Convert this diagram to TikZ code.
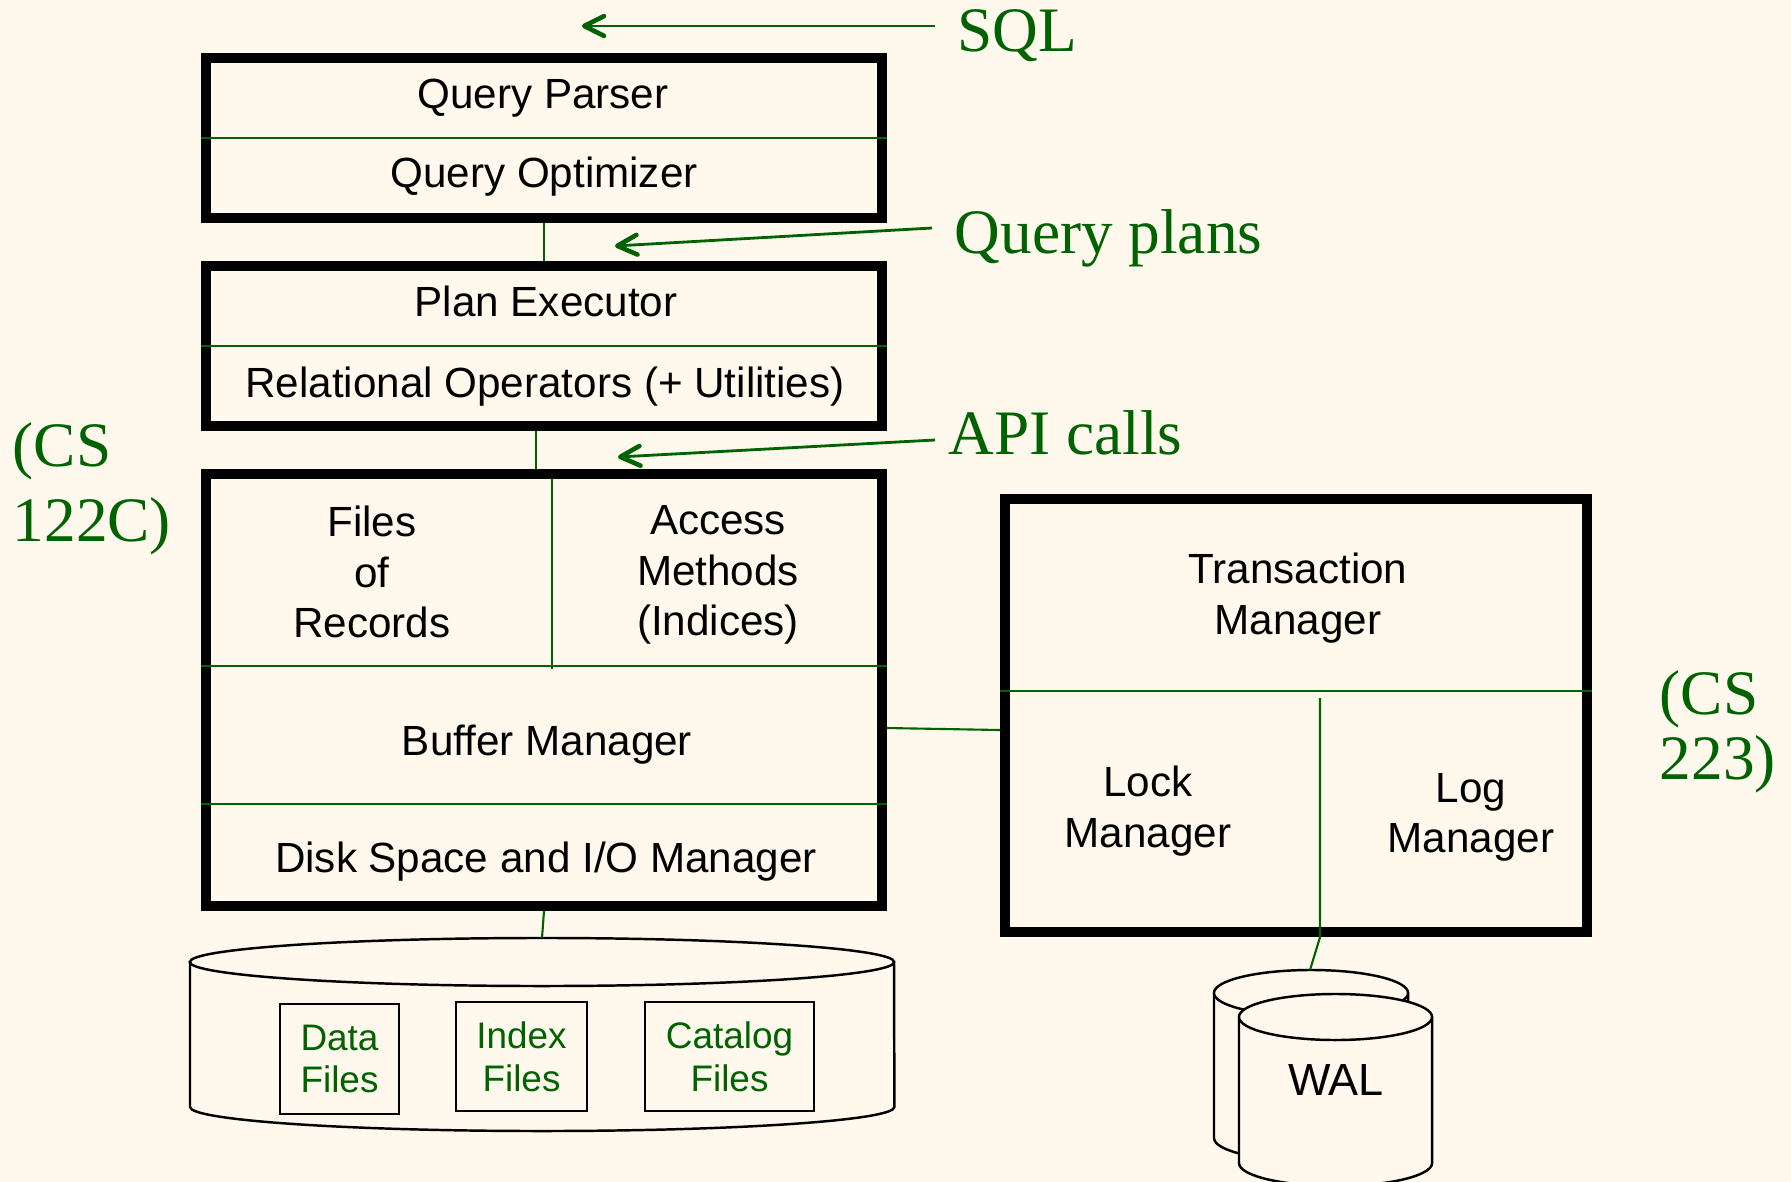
\documentclass[tikz,border=0pt]{standalone}
\usepackage{fontspec}
\setmainfont{Liberation Sans}
\newfontfamily\labelfont{Liberation Serif}
\usetikzlibrary{arrows.meta, positioning, calc}
\definecolor{cBg}{RGB}{255, 248, 236}
\definecolor{bGreen}{RGB}{0, 98, 0}
\definecolor{tDark}{RGB}{0, 0, 0}

\begin{document}
\begin{tikzpicture}[
    x=0.01cm, y=-0.01cm,
    font=\fontsize{12}{14.3}\selectfont,
    >={Straight Barb[length=5.6pt, width=5.6pt, line width=1.3pt, round]},
    layer/.style={draw=tDark, line width=0.1cm, fill=cBg, inner sep=0pt},
    part/.style={align=center, inner sep=0pt, text=tDark},
    divider/.style={draw=bGreen, line width=0.65pt},
    link/.style={draw=bGreen, line width=0.6pt},
    arrow/.style={->, line width=0.8pt, color=bGreen},
    note/.style={font=\labelfont\fontsize{18}{21.3}\selectfont, text=bGreen, inner sep=0pt},
    store/.style={draw=tDark, line width=0.7pt, fill=cBg},
    filebox/.style={draw=tDark, line width=0.6pt, align=center, inner sep=0pt,
        text=bGreen, font=\fontsize{10.5}{12.2}\selectfont}
]

\path[fill=cBg, use as bounding box] (0,0) rectangle (1791,1182);

% Query layer
\node[layer, minimum width=6.76cm, minimum height=1.6cm] (qbox) at (544,138) {};
\node[part, anchor=base] (parser) at (543,109) {Query Parser};
\node[part, anchor=base] (optimizer) at (544,188) {Query Optimizer};
\draw[divider] (qbox.west) -- (qbox.east);

% Execution layer
\node[layer, minimum width=6.76cm, minimum height=1.6cm] (pbox) at (544,346) {};
\node[part, anchor=base] (executor) at (546,317) {Plan Executor};
\node[part, anchor=base] (operators) at (545,397) {Relational Operators (+ Utilities)};
\draw[divider] (pbox.west) -- (pbox.east);

% Storage layer
\node[layer, minimum width=6.76cm, minimum height=4.32cm] (sbox) at (544,690) {};
\node[part] (files) at (372,572) {Files\\of\\Records};
\node[part] (access) at (718,575) {Access\\Methods\\(Indices)};
\node[part, anchor=base] (buffer) at (547,755) {Buffer Manager};
\node[part, anchor=base] (diskspace) at (546,872) {Disk Space and I/O Manager};
\draw[divider] (sbox.west |- 0,666) -- (sbox.east |- 0,666);
\draw[divider] (sbox.west |- 0,804) -- (sbox.east |- 0,804);
\draw[divider] (552,478) -- (552,669);

% Transaction layer
\node[layer, minimum width=5.82cm, minimum height=4.33cm] (tbox) at (1296,715.5) {};
\node[part] (txn) at (1298,598) {Transaction\\Manager};
\node[part] (lock) at (1148,811) {Lock\\Manager};
\node[part] (log) at (1471,817) {Log\\Manager};
\draw[divider] (tbox.west |- 0,691) -- (tbox.east |- 0,691);

% Disk
\draw[store] (190,962) -- (190,1107)
    arc[start angle=180, end angle=360, x radius=3.52cm, y radius=0.24cm] -- (894,962);
\draw[store] (542,962) ellipse [x radius=3.52cm, y radius=0.24cm];
\coordinate (disktop) at (542,938);
\node[filebox, minimum width=1.19cm, minimum height=1.1cm] (datafiles) at (339.5,1059) {Data\\Files};
\node[filebox, minimum width=1.31cm, minimum height=1.09cm] (indexfiles) at (521.5,1056.5) {Index\\Files};
\node[filebox, minimum width=1.69cm, minimum height=1.09cm] (catalogfiles) at (729.5,1056.5) {Catalog\\Files};

% WAL
\draw[store] (1214,993) -- (1214,1138)
    arc[start angle=180, end angle=360, x radius=0.97cm, y radius=0.23cm] -- (1408,993);
\draw[store] (1311,993) ellipse [x radius=0.97cm, y radius=0.23cm];
\draw[store] (1239,1017) -- (1239,1163)
    arc[start angle=180, end angle=360, x radius=0.965cm, y radius=0.23cm] -- (1432,1017);
\draw[store] (1335.5,1017) ellipse [x radius=0.965cm, y radius=0.23cm];
\coordinate (waltop) at (1310,970);
\node[part, font=\fontsize{12.8}{15}\selectfont] (wal) at (1336,1080) {WAL};

% Links
\draw[link] (qbox.south) -- (pbox.north);
\draw[link] ([xshift=-0.08cm]pbox.south) -- ([xshift=-0.08cm]sbox.north);
\draw[link] (sbox.south) -- (disktop);
\draw[link] ([yshift=-0.38cm]sbox.east) -- ([yshift=-0.145cm]tbox.west);
\coordinate (lmtop) at (1320,698);
\draw[link] (lmtop) -- (lmtop |- tbox.south) -- (waltop);

% Labels
\node[note, anchor=base west] (sql) at (957,52) {SQL};
\node[note, anchor=base west] (plans) at (954,253) {Query plans};
\node[note, anchor=base west] (api) at (948,454) {API calls};
\node[note, align=left, anchor=west] (cs122) at (12,489) {(CS\\122C)};
\node[note, align=left, anchor=west, font=\labelfont\fontsize{18}{18.5}\selectfont] (cs223) at (1659,732) {(CS\\223)};

\coordinate (sqlTail) at (935,26);
\coordinate (sqlTip) at (582,26);
\coordinate (plansTail) at (932,228);
\coordinate (plansTip) at (615,246);
\coordinate (apiTail) at (935,440);
\coordinate (apiTip) at (618,457);
\draw[arrow] (sqlTail) -- (sqlTip);
\draw[arrow] (plansTail) -- (plansTip);
\draw[arrow] (apiTail) -- (apiTip);

\end{tikzpicture}
\end{document}
